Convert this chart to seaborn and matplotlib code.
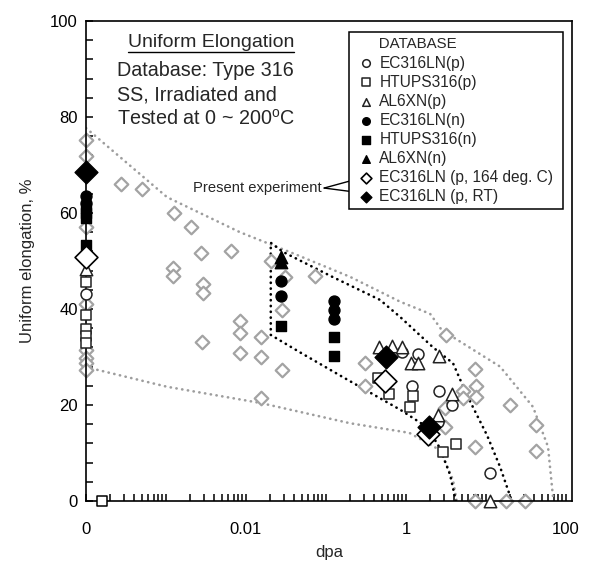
import matplotlib
matplotlib.use("Agg")
import matplotlib.pyplot as plt
from matplotlib.ticker import LogLocator, MultipleLocator, NullFormatter, FixedLocator, FixedFormatter
import seaborn as sns

# ---------------- data ----------------
# dpa = 0 (unirradiated) values are plotted at the left edge (1e-4, labelled "0")
ec_p_x = [1e-4, 0.88, 1.18, 1.43, 2.6, 3.8, 2.53, 11.2]
ec_p_y = [43.2, 31.0, 24.0, 30.6, 22.9, 20.1, 16.5, 5.8]

ht_p_x = [1e-4, 1e-4, 1e-4, 1e-4, 1e-4, 0.45, 0.62, 1.23, 1.12, 2.87, 4.2]
ht_p_y = [45.6, 38.7, 35.8, 34.4, 33.0, 25.6, 22.3, 21.8, 19.6, 10.3, 11.9]

al_p_x = [1e-4, 0.464, 0.674, 0.884, 1.155, 1.43, 2.6, 3.8, 2.53, 11.2]
al_p_y = [48.3, 32.0, 32.3, 32.1, 28.7, 28.7, 30.2, 22.2, 18.0, 0.0]

ec_n_x = [1e-4, 1e-4, 0.0272, 0.0272, 0.126, 0.126, 0.126]
ec_n_y = [63.5, 62.0, 45.8, 42.8, 41.7, 39.8, 38.0]

ht_n_x = [1e-4, 1e-4, 1e-4, 1e-4, 0.0272, 0.126, 0.126]
ht_n_y = [61.0, 60.0, 59.0, 53.3, 36.5, 34.2, 30.2]

al_n_x = [0.0272, 0.0272]
al_n_y = [50.9, 49.8]

exp164_x = [1e-4, 0.55, 1.9]
exp164_y = [50.8, 24.9, 14.0]

exprt_x = [1e-4, 0.56, 1.96]
exprt_y = [68.5, 30.0, 15.5]

other_x = [1e-4, 1e-4, 1e-4, 1e-4, 1e-4, 1e-4, 1e-4, 1e-4,
           2.72e-4, 5.06e-4, 1.26e-3, 2.04e-3, 2.74e-3, 6.44e-3, 1.21e-3, 1.21e-3,
           2.88e-3, 2.88e-3, 2.8e-3, 8.4e-3, 8.4e-3, 8.4e-3, 0.0154, 0.0154, 0.0154,
           0.0279, 0.0279, 0.0204, 0.0307, 0.0729, 0.307, 0.307, 3.16, 7.3, 5.2,
           7.6, 7.6, 5.2, 3.07, 3.07, 7.3, 20.0, 42.0, 42.0, 7.3, 18.0, 31.0]
other_y = [75.2, 71.8, 57.0, 41.0, 31.5, 29.8, 28.7, 27.3,
           66.0, 65.1, 60.1, 57.1, 51.7, 52.1, 48.5, 46.9,
           45.3, 43.3, 33.2, 37.5, 34.9, 30.9, 34.2, 30.0, 21.4,
           39.8, 27.3, 50.0, 46.7, 46.9, 28.8, 24.0, 34.6, 27.5, 22.9,
           24.0, 21.7, 21.4, 19.3, 15.5, 11.3, 20.1, 15.8, 10.4, 0.0, 0.0, 0.0]

# trend bands
gu_x = [1e-4, 1.03e-3, 8.4e-3, 0.0387, 0.2, 0.85, 2.0, 2.8, 15.0, 38.7, 59.6, 68.8, 70.0]
gu_y = [77.7, 63.3, 56.0, 51.6, 46.7, 41.5, 39.0, 35.6, 28.0, 19.6, 11.3, 0.8, 0.0]
gl_x = [1e-4, 1.03e-3, 0.0154, 0.2, 1.1, 2.66, 3.87, 4.3]
gl_y = [27.9, 23.8, 20.4, 16.2, 14.2, 10.6, 4.4, 0.0]
env_x = [4.2, 3.55, 2.66, 1.83, 0.85, 0.163, 0.047, 0.0204, 0.0204, 0.029, 0.12,
         0.473, 0.85, 2.18, 3.87, 5.8, 10.3, 15.0, 21.0]
env_y = [0.0, 5.5, 11.0, 15.4, 19.0, 25.8, 31.0, 34.6, 53.8, 51.9, 46.7,
         41.9, 38.3, 32.0, 28.7, 22.0, 13.7, 7.1, 0.0]

break_x = [1.585e-4]
break_y = [0.0]

x_tick_vals = [1e-4, 1e-3, 1e-2, 1e-1, 1, 10, 100]
x_tick_labels = ['0', '', '0.01', '', '1', '', '100']

# ---------------- style ----------------
sns.set_style("ticks")
plt.rcParams['font.family'] = ['Liberation Sans', 'DejaVu Sans']
plt.rcParams['mathtext.fontset'] = 'custom'
plt.rcParams['mathtext.rm'] = 'Liberation Sans'

fig = plt.figure(figsize=(5.93, 5.65), dpi=100)
ax = fig.add_axes([86/593, 1-501/565, (572-86)/593, 480/565])

dot = dict(linestyle=(0, (0.1, 2.1)), dash_capstyle='round', lw=1.9)
sns.lineplot(x=gu_x, y=gu_y, sort=False, estimator=None, color='#9d9d9d', ax=ax, zorder=1, **dot)
sns.lineplot(x=gl_x, y=gl_y, sort=False, estimator=None, color='#9d9d9d', ax=ax, zorder=1, **dot)
sns.lineplot(x=env_x, y=env_y, sort=False, estimator=None, color='black', ax=ax, zorder=1, **dot)

common = dict(ax=ax, clip_on=False)
sns.scatterplot(x=other_x, y=other_y, marker='D', s=48, color='white', edgecolor='#a3a3a3',
                linewidth=1.6, zorder=2, label='_nolegend_', **common)

sns.scatterplot(x=ec_p_x, y=ec_p_y, marker='o', s=62, color='white', edgecolor='#222222',
                linewidth=1.1, zorder=3, label='EC316LN(p)', **common)
sns.scatterplot(x=ht_p_x, y=ht_p_y, marker='s', s=62, color='white', edgecolor='#222222',
                linewidth=1.1, zorder=3, label='HTUPS316(p)', **common)
sns.scatterplot(x=al_p_x, y=al_p_y, marker='^', s=80, color='white', edgecolor='#222222',
                linewidth=1.1, zorder=3, label='AL6XN(p)', **common)
sns.scatterplot(x=ec_n_x, y=ec_n_y, marker='o', s=62, color='black', edgecolor='black',
                linewidth=1.0, zorder=3, label='EC316LN(n)', **common)
sns.scatterplot(x=ht_n_x, y=ht_n_y, marker='s', s=62, color='black', edgecolor='black',
                linewidth=1.0, zorder=3, label='HTUPS316(n)', **common)
sns.scatterplot(x=al_n_x, y=al_n_y, marker='^', s=80, color='black', edgecolor='black',
                linewidth=1.0, zorder=3, label='AL6XN(n)', **common)
sns.scatterplot(x=exp164_x, y=exp164_y, marker='D', s=135, color='white', edgecolor='black',
                linewidth=1.2, zorder=4, label='EC316LN (p, 164 deg. C) ', **common)
sns.scatterplot(x=exprt_x, y=exprt_y, marker='D', s=135, color='black', edgecolor='black',
                linewidth=1.0, zorder=5, label='EC316LN (p, RT)', **common)

# axis-break mark on the x axis
ax.scatter(break_x, break_y, marker='s', s=55, facecolor='white', edgecolor='black',
           linewidth=1.1, zorder=6, clip_on=False)

# ---------------- axes ----------------
ax.set_xscale('log')
ax.set_xlim(1e-4, 10**2.075)
ax.set_ylim(0, 100)
ax.xaxis.set_major_locator(FixedLocator(x_tick_vals))
ax.xaxis.set_major_formatter(FixedFormatter(x_tick_labels))
ax.xaxis.set_minor_locator(LogLocator(base=10, subs=range(2, 10), numticks=20))
ax.xaxis.set_minor_formatter(NullFormatter())
ax.yaxis.set_major_locator(MultipleLocator(20))
ax.yaxis.set_minor_locator(MultipleLocator(4))
ax.tick_params(axis='both', which='both', direction='in', length=5, width=1.1,
               colors='black', labelsize=12, top=False, right=False)
ax.tick_params(axis='x', which='major', pad=15)
ax.tick_params(axis='y', which='major', pad=6)
for sp in ax.spines.values():
    sp.set_visible(True)
    sp.set_color('black')
    sp.set_linewidth(1.2)
ax.set_xlabel('dpa', fontsize=12, labelpad=6)
ax.set_ylabel('Uniform elongation, %', fontsize=12, labelpad=11)

# ---------------- texts ----------------
t1 = ax.text(0.086, 0.956, 'Uniform Elongation', transform=ax.transAxes, fontsize=14,
             ha='left', va='center')
for txt, yy in (('Database: Type 316', 0.902), ('SS, Irradiated and', 0.851),
                ('Tested at 0 ~ 200$^{\\rm o}$C', 0.800)):
    ax.text(0.064, yy, txt, transform=ax.transAxes, fontsize=14.2, ha='left',
            va='center_baseline')

leg = ax.legend(loc='upper left', bbox_to_anchor=((349-86)/486, 0.977), borderaxespad=0,
                title='      DATABASE', title_fontsize=10.8, fontsize=11.2, frameon=True,
                fancybox=False, edgecolor='black', framealpha=1,
                handlelength=1.5, handletextpad=0.1, labelspacing=0.26, borderpad=0.35)
leg.get_frame().set_linewidth(1.1)
leg._legend_box.align = 'left'
leg.set_zorder(10)
for h in leg.legend_handles:
    h.set_sizes([30])

ax.text(0.485, 0.652, 'Present experiment', transform=ax.transAxes, fontsize=10.6,
        ha='right', va='center')
for hy in (0.673, 0.642):
    ax.annotate('', xy=(0.566, hy), xytext=(0.49, 0.652), xycoords='axes fraction',
                textcoords='axes fraction',
                arrowprops=dict(arrowstyle='-|>', color='black', lw=1.0, mutation_scale=9,
                                shrinkA=0, shrinkB=0))

# underline for the heading
fig.canvas.draw()
bb = t1.get_window_extent()
inv = ax.transAxes.inverted()
(x0, y0), (x1, _) = inv.transform([(bb.x0, bb.y0 - 1), (bb.x1, bb.y0 - 1)])
ax.plot([x0, x1], [y0, y0], transform=ax.transAxes, color='black', lw=1.0, clip_on=False)

fig.savefig('out.png', dpi=100)
